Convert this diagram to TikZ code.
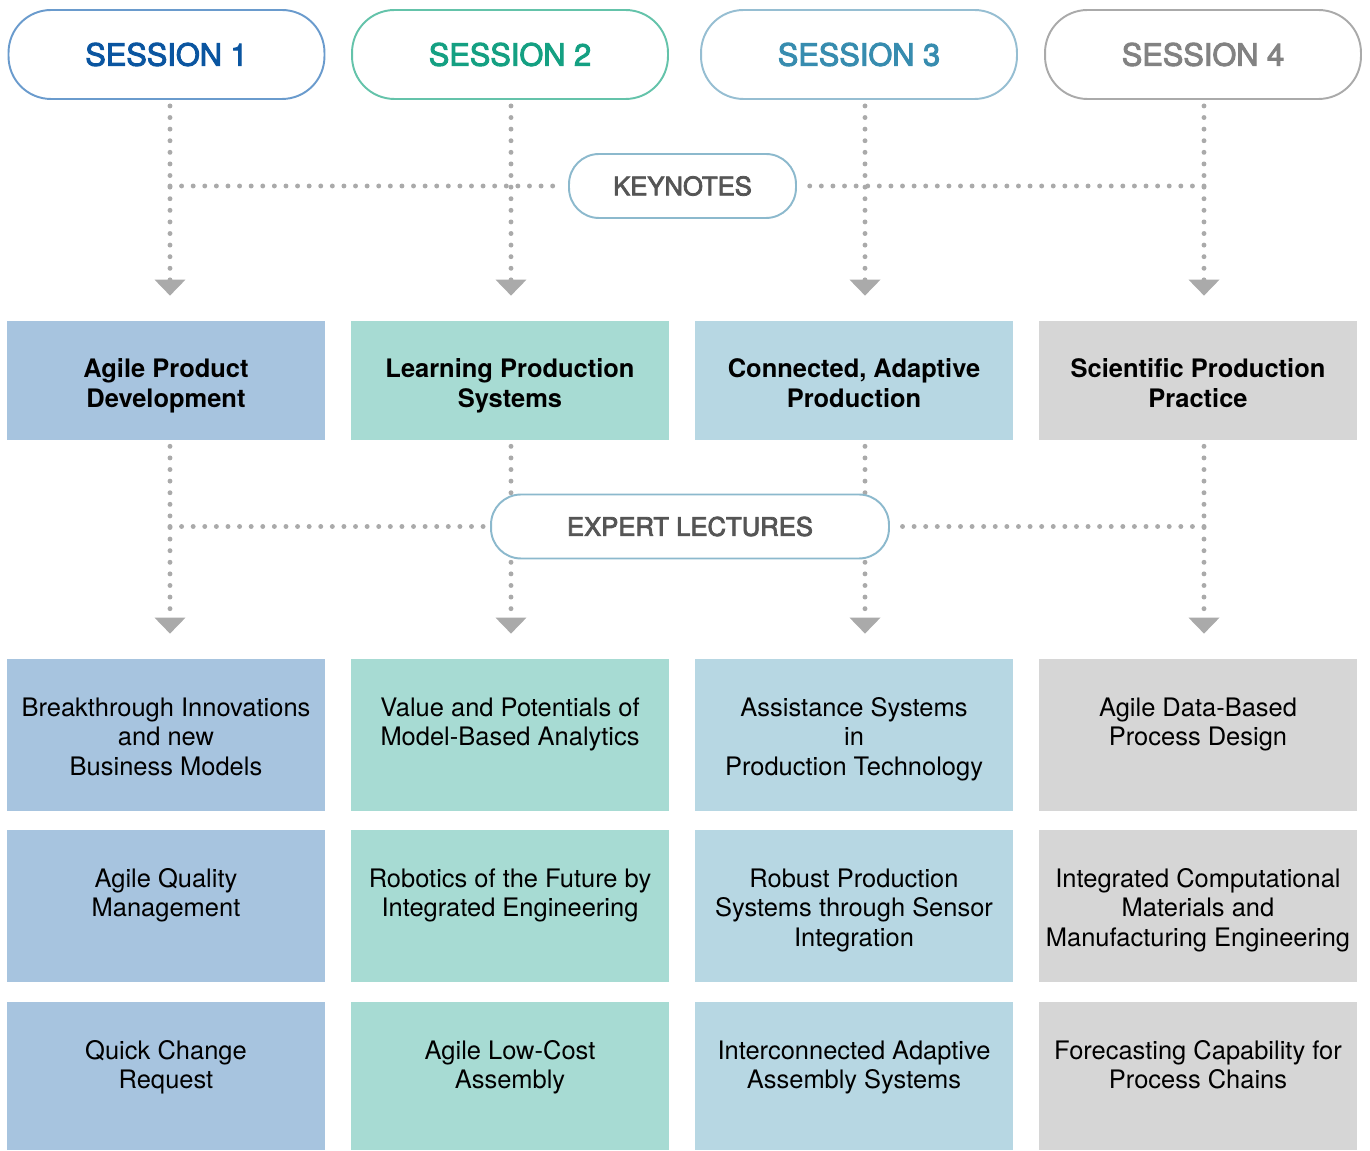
\documentclass[tikz,border=0pt]{standalone}
\usepackage{fontspec}
\setmainfont{TeX Gyre Heros}
\newfontfamily\medfont[FakeBold=3]{TeX Gyre Heros}
\usetikzlibrary{arrows.meta,backgrounds}

\definecolor{sesonel}{RGB}{106,155,205}
\definecolor{sesonet}{RGB}{10,85,160}
\definecolor{sestwol}{RGB}{100,195,170}
\definecolor{sestwot}{RGB}{20,160,130}
\definecolor{sesthreel}{RGB}{150,190,210}
\definecolor{sesthreet}{RGB}{55,140,175}
\definecolor{sesfourl}{RGB}{170,170,170}
\definecolor{sesfourt}{RGB}{130,130,130}
\definecolor{eventline}{RGB}{140,185,205}
\definecolor{eventtext}{RGB}{85,85,85}
\definecolor{fillone}{RGB}{167,196,223}
\definecolor{filltwo}{RGB}{167,219,211}
\definecolor{fillthree}{RGB}{183,215,227}
\definecolor{fillfour}{RGB}{214,214,214}
\definecolor{dotgray}{RGB}{170,170,170}

\begin{document}
\begin{tikzpicture}[
			x=0.02cm, y=-0.02cm,
			session/.style={rectangle, rounded corners=0.85cm, draw, line width=1.1pt,
			fill=white, minimum width=6.32cm, minimum height=1.78cm,
			font=\medfont\fontsize{17.5}{20}\selectfont},
			event/.style={rectangle, rounded corners=0.6cm, draw=eventline, line width=1.1pt,
			fill=white, minimum height=1.28cm, text=eventtext,
			font=\medfont\fontsize{14.6}{17}\selectfont},
			topic/.style={rectangle, minimum width=6.36cm, minimum height=2.38cm, inner sep=0pt},
			cell/.style={rectangle, minimum width=6.36cm, minimum height=3.04cm, inner sep=0pt},
			celltxt/.style={anchor=north, inner sep=0pt, align=center,
			font=\fontsize{14.5}{16.8}\selectfont},
			topictxt/.style={celltxt, font=\fontsize{14.5}{16.8}\selectfont\bfseries},
			dots/.style={draw=dotgray, line width=2.8pt, line cap=round,
			dash pattern=on 0pt off 6.6pt},
			flow/.style={dots, -{Triangle[width=0.6cm,length=0.32cm]},
			shorten >=0.5cm, shorten <=0.12cm}
			]
			\useasboundingbox (0,0) rectangle (1370,1151);
			% line positions
			\coordinate (x1) at (170,0);
			\coordinate (x2) at (511,0);
			\coordinate (x3) at (865,0);
			\coordinate (x4) at (1204,0);

			% sessions
			\node[session, draw=sesonel, text=sesonet] (s1) at (166.5,54.5) {SESSION 1};
			\node[session, draw=sestwol, text=sestwot] (s2) at (510,54.5) {SESSION 2};
			\node[session, draw=sesthreel, text=sesthreet] (s3) at (859,54.5) {SESSION 3};
			\node[session, draw=sesfourl, text=sesfourt] (s4) at (1203,54.5) {SESSION 4};

			\node[event, minimum width=4.54cm] (kn) at (682.5,186) {KEYNOTES};

			% topics
			\node[topic, fill=fillone] (t1) at (166,380.5) {};
			\node[topic, fill=filltwo] (t2) at (510,380.5) {};
			\node[topic, fill=fillthree] (t3) at (854,380.5) {};
			\node[topic, fill=fillfour] (t4) at (1198,380.5) {};
			\node[topictxt] at (t1.north) {\rule{0pt}{1.14cm}Agile Product\\Development};
			\node[topictxt] at (t2.north) {\rule{0pt}{1.14cm}Learning Production\\Systems};
			\node[topictxt] at (t3.north) {\rule{0pt}{1.14cm}Connected, Adaptive\\Production};
			\node[topictxt] at (t4.north) {\rule{0pt}{1.14cm}Scientific Production\\Practice};

			\node[event, minimum width=7.96cm] (el) at (690,526.5) {EXPERT LECTURES};

			% lectures
			\node[cell, fill=fillone] (a1) at (166,735) {};
			\node[cell, fill=filltwo] (a2) at (510,735) {};
			\node[cell, fill=fillthree] (a3) at (854,735) {};
			\node[cell, fill=fillfour] (a4) at (1198,735) {};
			\node[celltxt] at (a1.north) {\rule{0pt}{1.14cm}Breakthrough Innovations\\and new\\Business Models};
			\node[celltxt] at (a2.north) {\rule{0pt}{1.14cm}Value and Potentials of\\Model-Based Analytics};
			\node[celltxt] at (a3.north) {\rule{0pt}{1.14cm}Assistance Systems\\in\\Production Technology};
			\node[celltxt] at (a4.north) {\rule{0pt}{1.14cm}Agile Data-Based\\Process Design};

			\node[cell, fill=fillone] (b1) at (166,906) {};
			\node[cell, fill=filltwo] (b2) at (510,906) {};
			\node[cell, fill=fillthree] (b3) at (854,906) {};
			\node[cell, fill=fillfour] (b4) at (1198,906) {};
			\node[celltxt] at (b1.north) {\rule{0pt}{1.14cm}Agile Quality\\Management};
			\node[celltxt] at (b2.north) {\rule{0pt}{1.14cm}Robotics of the Future by\\Integrated Engineering};
			\node[celltxt] at (b3.north) {\rule{0pt}{1.14cm}Robust Production\\Systems through Sensor\\Integration};
			\node[celltxt] at (b4.north) {\rule{0pt}{1.14cm}Integrated Computational\\Materials and\\Manufacturing Engineering};

			\node[cell, fill=fillone, minimum height=2.96cm] (c1) at (166,1076) {};
			\node[cell, fill=filltwo, minimum height=2.96cm] (c2) at (510,1076) {};
			\node[cell, fill=fillthree, minimum height=2.96cm] (c3) at (854,1076) {};
			\node[cell, fill=fillfour, minimum height=2.96cm] (c4) at (1198,1076) {};
			\node[celltxt] at (c1.north) {\rule{0pt}{1.14cm}Quick Change\\Request};
			\node[celltxt] at (c2.north) {\rule{0pt}{1.14cm}Agile Low-Cost\\Assembly};
			\node[celltxt] at (c3.north) {\rule{0pt}{1.14cm}Interconnected Adaptive\\Assembly Systems};
			\node[celltxt] at (c4.north) {\rule{0pt}{1.14cm}Forecasting Capability for\\Process Chains};

			% dotted connectors
			\begin{scope}[on background layer]
				\foreach \i in {1,...,4} {
					\draw[flow] (s\i.south -| x\i) -- (t\i.north -| x\i);
					\draw[flow] (t\i.south -| x\i) -- (a\i.north -| x\i);
				}
				\draw[dots, shorten >=0.26cm] (kn.west -| x1) -- (kn.west);
				\draw[dots, shorten >=0.18cm] (kn.east -| x4) -- (kn.east);
				\draw[dots, shorten >=0.08cm] (el.west -| x1) -- (el.west);
				\draw[dots, shorten >=0.08cm] (el.east -| x4) -- (el.east);
			\end{scope}
		\end{tikzpicture}
\end{document}
